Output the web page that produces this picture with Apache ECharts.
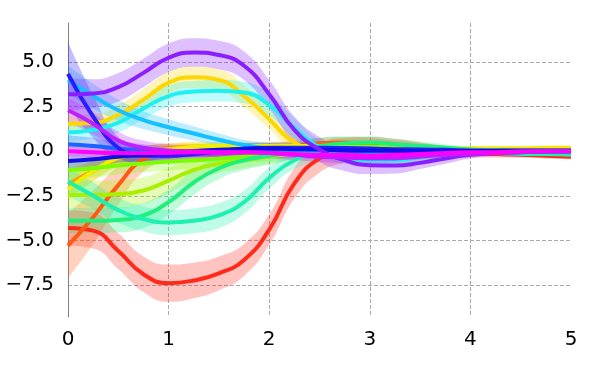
<!DOCTYPE html>
<html>
<head>
<meta charset="utf-8">
<script src="https://cdn.jsdelivr.net/npm/echarts@6/dist/echarts.min.js"></script>
<style>
html, body {margin: 0; padding: 0; background: #fff;}
#main {width: 600px; height: 375px;}
</style>
</head>
<body>
<div id="main"></div>
<script>
// time points
var xs = [0, 0.25, 0.5, 0.75, 1, 1.25, 1.5, 1.75, 2, 2.25, 2.5, 2.75, 3, 3.25, 3.5, 3.75, 4, 4.25, 4.5, 4.75, 5];
var yTicks = [-7.5, -5, -2.5, 0, 2.5, 5];
var xTicks = [0, 1, 2, 3, 4, 5];

// mean curves + half band widths
var red = [-4.3, -4.45, -5.6, -6.9, -7.4, -7.25, -6.85, -6.1, -4.4, -1.8, -0.4, 0.05, 0.2, 0.2, 0.1, 0, -0.1, -0.15, -0.2, -0.25, -0.3];
var redSd = [1.0, 1.0, 1.0, 1.0, 1.05, 1.0, 0.95, 0.9, 0.85, 0.85, 0.8, 0.7, 0.6, 0.5, 0.4, 0.3, 0.25, 0.2, 0.15, 0.15, 0.15];
var orangeRed = [-5.3, -3.7, -1.9, -0.45, -0.1, 0, 0.05, 0.1, 0.15, 0.3, 0.45, 0.5, 0.45, 0.35, 0.25, 0.15, 0.1, 0.05, 0, 0, 0];
var orangeRedSd = [1.8, 1.5, 1.1, 0.7, 0.5, 0.4, 0.35, 0.3, 0.3, 0.3, 0.3, 0.3, 0.3, 0.25, 0.2, 0.15, 0.1, 0.1, 0.1, 0.1, 0.1];
var orange = [-1.85, -1.1, -0.4, -0.05, 0.15, 0.25, 0.25, 0.2, 0.2, 0.2, 0.2, 0.2, 0.2, 0.15, 0.1, 0.05, 0.05, 0, 0, 0, 0];
var orangeSd = [0.8, 0.6, 0.45, 0.35, 0.3, 0.25, 0.25, 0.2, 0.2, 0.2, 0.2, 0.2, 0.2, 0.15, 0.15, 0.1, 0.1, 0.1, 0.1, 0.1, 0.1];
var gold = [1.55, 1.6, 2.05, 2.9, 3.85, 4.15, 4.0, 3.1, 1.8, 0.5, 0.15, 0.1, 0.1, 0.1, 0.1, 0.1, 0.15, 0.15, 0.15, 0.2, 0.2];
var goldSd = [0.5, 0.5, 0.55, 0.6, 0.6, 0.6, 0.6, 0.6, 0.55, 0.45, 0.35, 0.3, 0.25, 0.2, 0.15, 0.1, 0.1, 0.1, 0.1, 0.1, 0.1];
var yellow = [-2.15, -1.1, -0.35, -0.05, 0.1, 0.25, 0.3, 0.3, 0.3, 0.3, 0.3, 0.25, 0.25, 0.2, 0.2, 0.15, 0.15, 0.15, 0.15, 0.15, 0.15];
var yellowSd = [0.7, 0.55, 0.45, 0.35, 0.3, 0.3, 0.25, 0.25, 0.25, 0.25, 0.25, 0.2, 0.2, 0.15, 0.15, 0.1, 0.1, 0.1, 0.1, 0.1, 0.1];
var greenYellow = [-2.45, -2.45, -2.4, -2.2, -1.65, -1.05, -0.7, -0.5, -0.3, -0.1, 0.05, 0.15, 0.2, 0.2, 0.15, 0.1, 0.1, 0.05, 0.05, 0.05, 0.05];
var greenYellowSd = [0.8, 0.8, 0.8, 0.75, 0.7, 0.6, 0.5, 0.45, 0.4, 0.35, 0.3, 0.3, 0.25, 0.2, 0.15, 0.1, 0.1, 0.1, 0.1, 0.1, 0.1];
var lime = [-1.05, -0.95, -0.8, -0.68, -0.58, -0.5, -0.42, -0.3, -0.2, -0.05, 0.1, 0.2, 0.25, 0.2, 0.15, 0.1, 0.05, 0.05, 0.05, 0.05, 0.05];
var limeSd = [0.5, 0.5, 0.5, 0.5, 0.5, 0.45, 0.4, 0.35, 0.35, 0.3, 0.3, 0.3, 0.25, 0.2, 0.15, 0.1, 0.1, 0.1, 0.1, 0.1, 0.1];
var green = [-3.9, -3.9, -3.85, -3.6, -2.85, -1.75, -0.95, -0.5, -0.25, 0, 0.3, 0.45, 0.5, 0.4, 0.3, 0.2, 0.1, 0.05, 0.05, 0.05, 0.05];
var greenSd = [0.7, 0.7, 0.7, 0.7, 0.7, 0.7, 0.6, 0.55, 0.5, 0.45, 0.45, 0.4, 0.35, 0.3, 0.25, 0.2, 0.15, 0.1, 0.1, 0.1, 0.1];
var teal = [-1.7, -2.5, -3.3, -3.8, -4.0, -3.9, -3.6, -2.85, -1.5, -0.5, -0.1, 0.1, 0.1, 0.05, 0, -0.05, -0.1, -0.1, -0.15, -0.15, -0.2];
var tealSd = [0.8, 0.75, 0.7, 0.7, 0.7, 0.7, 0.7, 0.65, 0.6, 0.5, 0.4, 0.35, 0.3, 0.25, 0.2, 0.15, 0.1, 0.1, 0.1, 0.1, 0.1];
var aqua = [1.05, 1.2, 1.6, 2.4, 3.1, 3.35, 3.4, 3.3, 2.6, 1.3, 0.2, -0.3, -0.5, -0.5, -0.35, -0.2, -0.1, -0.05, 0, 0, 0];
var aquaSd = [0.5, 0.5, 0.55, 0.6, 0.6, 0.6, 0.6, 0.6, 0.6, 0.55, 0.45, 0.4, 0.35, 0.3, 0.25, 0.2, 0.15, 0.1, 0.1, 0.1, 0.1];
var sky = [4.0, 3.1, 2.3, 1.75, 1.35, 1.0, 0.65, 0.35, 0.15, 0.05, 0, -0.05, -0.1, -0.1, -0.05, 0, 0, 0, 0, 0, 0];
var skySd = [0.8, 0.7, 0.6, 0.5, 0.45, 0.4, 0.35, 0.3, 0.3, 0.3, 0.3, 0.25, 0.25, 0.2, 0.15, 0.1, 0.1, 0.1, 0.1, 0.1, 0.1];
var royal = [0.4, 0.3, 0.15, 0.05, 0, 0, 0.05, 0.1, 0.1, 0.1, 0.1, 0.05, 0, 0, 0, 0, 0, 0, 0, 0, 0];
var royalSd = [0.5, 0.45, 0.4, 0.35, 0.3, 0.3, 0.3, 0.3, 0.3, 0.25, 0.25, 0.2, 0.2, 0.15, 0.15, 0.1, 0.1, 0.1, 0.1, 0.1, 0.1];
var blue = [4.35, 1.95, 0.2, -0.25, -0.25, -0.15, 0, 0.15, 0.2, 0.2, 0.2, 0.18, 0.15, 0.12, 0.1, 0.08, 0.05, 0.03, 0, 0, 0];
var blueSd = [1.8, 1.2, 0.6, 0.4, 0.35, 0.3, 0.3, 0.3, 0.3, 0.3, 0.25, 0.25, 0.2, 0.2, 0.15, 0.1, 0.1, 0.1, 0.1, 0.1, 0.1];
var darkBlue = [-0.55, -0.45, -0.3, -0.2, -0.1, 0, 0.08, 0.12, 0.15, 0.12, 0.1, 0.05, 0.05, 0.03, 0, 0, 0, 0.03, 0.05, 0.05, 0.05];
var darkBlueSd = [0.4, 0.4, 0.35, 0.35, 0.3, 0.3, 0.3, 0.3, 0.25, 0.25, 0.25, 0.2, 0.2, 0.15, 0.15, 0.1, 0.1, 0.1, 0.1, 0.1, 0.1];
var purple = [3.2, 3.25, 3.6, 4.4, 5.25, 5.55, 5.4, 4.8, 3.2, 1.2, 0.1, -0.5, -0.78, -0.8, -0.65, -0.4, -0.2, -0.1, -0.05, 0, 0];
var purpleSd = [0.9, 0.8, 0.8, 0.8, 0.8, 0.8, 0.8, 0.8, 0.8, 0.75, 0.7, 0.6, 0.5, 0.45, 0.35, 0.3, 0.2, 0.15, 0.1, 0.1, 0.1];
var violet = [2.3, 1.55, 0.6, 0.2, 0.05, 0, -0.05, -0.05, -0.1, -0.2, -0.3, -0.35, -0.4, -0.4, -0.3, -0.2, -0.15, -0.1, -0.05, 0, 0];
var violetSd = [0.7, 0.6, 0.5, 0.4, 0.35, 0.3, 0.3, 0.3, 0.3, 0.3, 0.3, 0.3, 0.25, 0.2, 0.15, 0.1, 0.1, 0.1, 0.1, 0.1, 0.1];
var magenta = [0, -0.05, -0.1, -0.1, -0.1, -0.05, -0.05, -0.05, -0.1, -0.15, -0.2, -0.2, -0.25, -0.2, -0.15, -0.1, -0.05, -0.05, 0, 0, 0];
var magentaSd = [0.3, 0.3, 0.3, 0.3, 0.3, 0.25, 0.25, 0.25, 0.25, 0.25, 0.25, 0.2, 0.2, 0.15, 0.15, 0.1, 0.1, 0.1, 0.1, 0.1, 0.1];

var lines = [
    {c: '#ff2a1a', m: red, s: redSd},
    {c: '#ff5a14', m: orangeRed, s: orangeRedSd},
    {c: '#ff9e00', m: orange, s: orangeSd},
    {c: '#ffd700', m: gold, s: goldSd},
    {c: '#eef000', m: yellow, s: yellowSd},
    {c: '#a8f000', m: greenYellow, s: greenYellowSd},
    {c: '#7cfc00', m: lime, s: limeSd},
    {c: '#1ef07a', m: green, s: greenSd},
    {c: '#1ef0b0', m: teal, s: tealSd},
    {c: '#1ef0f0', m: aqua, s: aquaSd},
    {c: '#14c0ff', m: sky, s: skySd},
    {c: '#1e64ff', m: royal, s: royalSd},
    {c: '#2a1aff', m: blue, s: blueSd},
    {c: '#1010e6', m: darkBlue, s: darkBlueSd},
    {c: '#8a1eff', m: purple, s: purpleSd},
    {c: '#c01eff', m: violet, s: violetSd},
    {c: '#ff00ff', m: magenta, s: magentaSd}
];

var series = [];
lines.forEach(function (l, i) {
    var low = [], wid = [];
    for (var j = 0; j < xs.length; j++) {
        low.push(l.m[j] - l.s[j]);
        wid.push(2 * l.s[j]);
    }
    series.push({
        type: 'line', data: low, stack: 'band' + i, stackStrategy: 'all',
        smooth: true, symbol: 'none', silent: true,
        lineStyle: {opacity: 0}
    });
    series.push({
        type: 'line', data: wid, stack: 'band' + i, stackStrategy: 'all',
        smooth: true, symbol: 'none', silent: true,
        lineStyle: {opacity: 0},
        areaStyle: {color: l.c, opacity: 0.28}
    });
    series.push({
        type: 'line', data: l.m, smooth: true, symbol: 'none', silent: true,
        lineStyle: {color: l.c, width: 4}
    });
});

var fmtY = function (v) {
    return (v < 0 ? '\u2212' : '') + Math.abs(v).toFixed(1);
};
var onTick = function (idx) {
    return xTicks.indexOf(xs[idx]) >= 0;
};

var chart = echarts.init(document.getElementById('main'));
chart.setOption({
    animation: false,
    grid: {left: 68, right: 29, top: 23, bottom: 58},
    xAxis: {
        type: 'category', data: xs, boundaryGap: false,
        axisLine: {show: false},
        axisTick: {show: false},
        axisLabel: {fontFamily: 'DejaVu Sans', fontSize: 20, color: '#000', margin: 13,
            interval: onTick, showMinLabel: true, showMaxLabel: true},
        splitLine: {show: true, interval: onTick, showMinLine: false, showMaxLine: false,
            lineStyle: {color: '#aaaaaa', width: 1, type: [4, 2]}}
    },
    yAxis: {
        type: 'value', min: -9.3, max: 7.2,
        axisLine: {show: true, lineStyle: {color: '#808080', width: 1}},
        axisTick: {show: false, customValues: yTicks},
        axisLabel: {fontFamily: 'DejaVu Sans', fontSize: 20, color: '#000', margin: 14,
            customValues: yTicks, formatter: fmtY},
        splitLine: {show: true, lineStyle: {color: '#aaaaaa', width: 1, type: [4, 2]}}
    },
    series: series
});
</script>
</body>
</html>
